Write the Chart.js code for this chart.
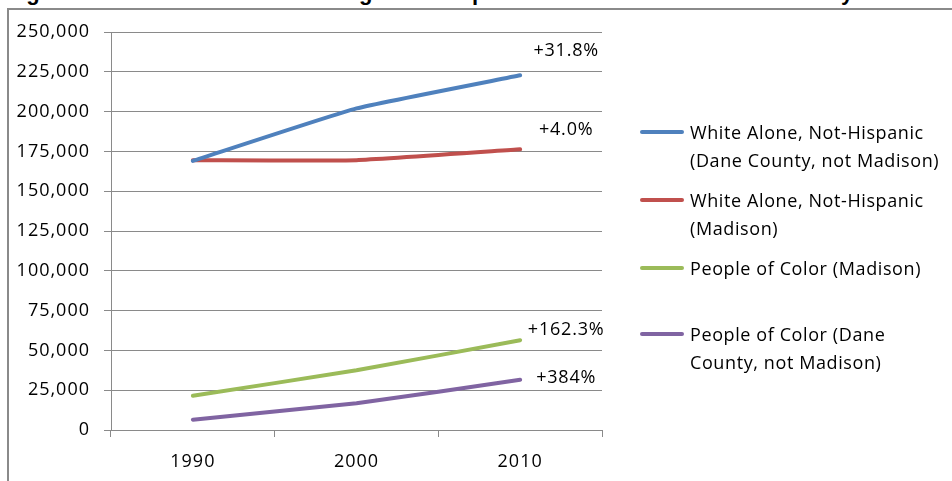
<!DOCTYPE html>
<html>
<head>
<meta charset="utf-8">
<script src="https://cdn.jsdelivr.net/npm/chart.js@4/dist/chart.umd.min.js"></script>
<style>
  html, body { margin: 0; padding: 0; width: 952px; height: 481px; overflow: hidden; background: #fff; }
  #title { position: absolute; left: 6px; top: -18px; white-space: nowrap; font: bold 22px "Liberation Sans", Arial, sans-serif; line-height: 22px; color: #000; letter-spacing: 0.3px; }
  #frame { position: absolute; left: 7px; top: 8px; width: 1000px; height: 600px; border-left: 2px solid #8a8a8a; border-top: 2px solid #8a8a8a; }
  #wrap { position: absolute; left: 0; top: 0; width: 952px; height: 481px; }
  #legend { position: absolute; left: 640px; top: 118px; font: 18px "Open Sans", sans-serif; letter-spacing: 0.6px; color: #000; }
  .item { position: absolute; left: 0; white-space: nowrap; }
  .swatch { position: absolute; left: 0; width: 44px; height: 4px; border-radius: 2px; }
  .txt { position: absolute; left: 50px; line-height: 28px; }
</style>
</head>
<body>
<div id="title">Figure 4: Racial and Ethnic Change in Group Size in Madison and Dane County</div>
<div id="frame"></div>
<div id="wrap"><canvas id="c" width="952" height="481"></canvas></div>
<div id="legend"></div>
<script>
const categories = ["1990", "2000", "2010"];
const whiteDaneNotMadison = [169000, 202000, 222800];
const whiteMadison = [169500, 169500, 176300];
const pocMadison = [21500, 37500, 56400];
const pocDaneNotMadison = [6500, 16800, 31500];
const seriesLabels = [
  ["White Alone, Not-Hispanic", "(Dane County, not Madison)"],
  ["White Alone, Not-Hispanic", "(Madison)"],
  ["People of Color (Madison)"],
  ["People of Color (Dane", "County, not Madison)"]
];
const changeLabels = ["+31.8%", "+4.0%", "+162.3%", "+384%"];
const seriesColors = ["#4F81BD", "#C0504D", "#9BBB59", "#8064A2"];

const labelOffsets = [-24, -19, -10, -2];

const spacing = {
  id: "spacing",
  beforeDraw(chart) { chart.ctx.letterSpacing = "1px"; }
};

const endLabels = {
  id: "endLabels",
  afterDatasetsDraw(chart) {
    const ctx = chart.ctx;
    ctx.save();
    ctx.letterSpacing = "0.8px";
    ctx.font = '18px "Open Sans", sans-serif';
    ctx.fillStyle = "#000";
    ctx.textAlign = "center";
    ctx.textBaseline = "middle";
    chart.data.datasets.forEach((ds, i) => {
      const meta = chart.getDatasetMeta(i);
      const pt = meta.data[meta.data.length - 1];
      ctx.fillText(changeLabels[i], pt.x + 46, pt.y + labelOffsets[i]);
    });
    ctx.restore();
  }
};

const seriesData = [whiteDaneNotMadison, whiteMadison, pocMadison, pocDaneNotMadison];
const chart = new Chart(document.getElementById("c"), {
  type: "line",
  data: {
    labels: categories,
    datasets: seriesData.map((d, i) => ({
      label: seriesLabels[i].join(" "),
      data: d,
      borderColor: seriesColors[i],
      backgroundColor: seriesColors[i],
      borderWidth: 4,
      pointRadius: 0,
      tension: 0.12,
      borderCapStyle: "round",
      borderJoinStyle: "round",
      fill: false
    }))
  },
  options: {
    responsive: false,
    animation: false,
    layout: { padding: { left: 0, top: 32, right: 350, bottom: 0 } },
    plugins: { legend: { display: false }, tooltip: { enabled: false }, title: { display: false } },
    scales: {
      x: {
        type: "category",
        offset: true,
        grid: { display: true, offset: true, drawOnChartArea: false, drawTicks: true, tickLength: 7, color: "#8a8a8a" },
        border: { display: true, color: "#8a8a8a", width: 1 },
        ticks: { color: "#000", font: { family: "Open Sans", size: 18 }, padding: 14, maxRotation: 0 },
        afterFit(scale) { scale.height = 51; }
      },
      y: {
        min: 0, max: 250000,
        ticks: {
          stepSize: 25000, color: "#000", font: { family: "Open Sans", size: 18 }, padding: 14,
          callback: v => v.toLocaleString("en-US")
        },
        grid: { color: "#8a8a8a", drawTicks: true, tickLength: 7 },
        border: { display: true, color: "#8a8a8a", width: 1 },
        afterFit(scale) { scale.width = 111; }
      }
    }
  },
  plugins: [spacing, endLabels]
});

// HTML legend from dataset labels/colors
const legendTops = [0, 68, 136, 202];
const lg = document.getElementById("legend");
chart.data.datasets.forEach((ds, i) => {
  const item = document.createElement("div");
  item.className = "item";
  item.style.top = legendTops[i] + "px";
  const sw = document.createElement("div");
  sw.className = "swatch";
  sw.style.background = ds.borderColor;
  sw.style.top = "12px";
  const tx = document.createElement("div");
  tx.className = "txt";
  tx.innerHTML = seriesLabels[i].join("<br>");
  item.appendChild(sw);
  item.appendChild(tx);
  lg.appendChild(item);
});
</script>
</body>
</html>
